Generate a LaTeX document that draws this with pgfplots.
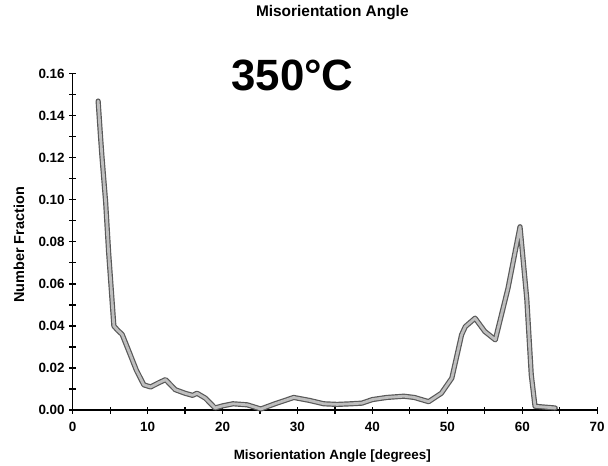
\documentclass[border=0pt]{standalone}
\usepackage{fontspec}
\setmainfont{Liberation Sans}
\usepackage{pgfplots}
\pgfplotsset{compat=1.18}
\usepackage{pgfplotstable}
\pgfplotstableread{
x y
3.4 0.147
3.7 0.131
3.9 0.121
4.4 0.099
4.8 0.075
5.2 0.055
5.5 0.040
6.0 0.038
6.6 0.036
7.5 0.028
8.5 0.019
9.5 0.012
10.4 0.011
11.5 0.013
12.4 0.0145
13.7 0.0097
15.0 0.008
16.0 0.007
16.6 0.008
17.7 0.0057
19.0 0.001
20.0 0.002
21.4 0.003
23.3 0.0025
25.1 0.0005
27.0 0.003
29.5 0.006
31.6 0.0046
33.5 0.003
35.3 0.0027
37.2 0.003
38.6 0.0033
40.0 0.005
41.9 0.006
44.2 0.0066
45.6 0.006
47.5 0.004
49.2 0.008
50.6 0.0152
51.2 0.0247
51.9 0.0358
52.4 0.0397
53.7 0.0437
55.0 0.0374
56.4 0.0334
58.1 0.058
59.7 0.0872
60.6 0.053
61.2 0.0168
61.7 0.0018
64.4 0.001
}\datatable
\begin{document}
\begin{tikzpicture}
\begin{axis}[
  scale only axis,
  width=527pt, height=338pt,
  xmin=0, xmax=70, ymin=0, ymax=0.16,
  axis lines=left,
  axis line style={-, line width=1.2pt, black},
  xtick={0,10,...,70},
  ytick={0,0.02,...,0.16},
  minor x tick num=1,
  minor y tick num=1,
  tick align=center,
  major tick length=7pt,
  minor tick length=7pt,
  tick style={black, line width=1.2pt},
  /pgf/number format/assume math mode=true,
  tick label style={font=\fontsize{13.5}{15}\selectfont\bfseries},
  yticklabel style={/pgf/number format/fixed, /pgf/number format/fixed zerofill, /pgf/number format/precision=2, xshift=-1pt},
  xticklabel style={yshift=-5pt},
  scaled y ticks=false,
  xlabel={Misorientation Angle [degrees]},
  ylabel={Number Fraction},
  xlabel style={at={(axis description cs:0.495,-0.136)}, anchor=center, font=\fontsize{13.5}{15}\selectfont\bfseries},
  ylabel style={at={(axis description cs:-0.1025,0.491)}, anchor=center, font=\fontsize{14.5}{16}\selectfont\bfseries},
  title={Misorientation Angle},
  title style={at={(axis description cs:0.495,1.163)}, anchor=center, font=\fontsize{15.5}{17}\selectfont\bfseries},
  clip=false,
]
\addplot[draw=black!65, line width=5.2pt, line join=round, line cap=round] table {\datatable};
\addplot[draw=gray!50, line width=2.8pt, line join=round, line cap=round] table {\datatable};
\node[font=\fontsize{44}{48}\selectfont\bfseries, anchor=center] at (axis description cs:0.419,0.994) {350°C};
\end{axis}
\useasboundingbox (-73pt,-56pt) rectangle (535pt,412pt);
\end{tikzpicture}
\end{document}
